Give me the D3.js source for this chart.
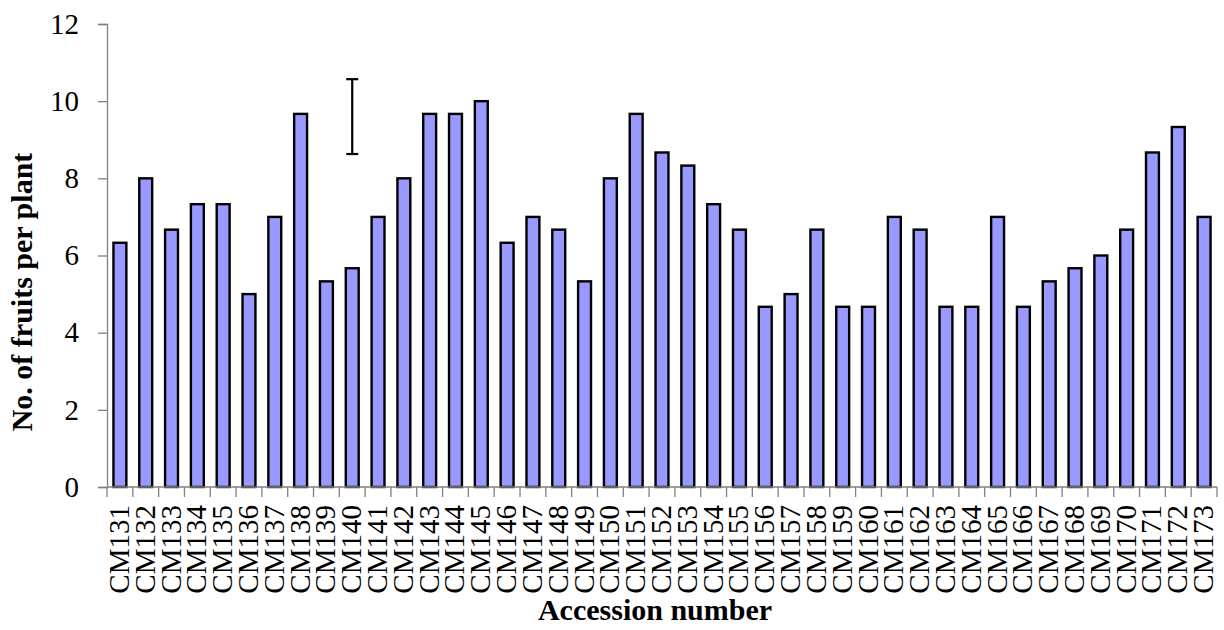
<!DOCTYPE html>
<html>
<head>
<meta charset="utf-8">
<script src="https://cdn.jsdelivr.net/npm/d3@7"></script>
<style>
  body { margin: 0; background: #fff; }
  text { font-family: "Liberation Serif", serif; fill: #000; }
</style>
</head>
<body>
<div id="chart"></div>
<script>
(function() {
    const width = 1224;
    const height = 630;

    // Accession numbers and mean fruits per plant
    const accessions = ["CM131", "CM132", "CM133", "CM134", "CM135", "CM136", "CM137", "CM138", "CM139", "CM140",
        "CM141", "CM142", "CM143", "CM144", "CM145", "CM146", "CM147", "CM148", "CM149", "CM150",
        "CM151", "CM152", "CM153", "CM154", "CM155", "CM156", "CM157", "CM158", "CM159", "CM160",
        "CM161", "CM162", "CM163", "CM164", "CM165", "CM166", "CM167", "CM168", "CM169", "CM170",
        "CM171", "CM172", "CM173"];
    const fruits = [6.33, 8, 6.67, 7.33, 7.33, 5, 7, 9.67, 5.33, 5.67,
        7, 8, 9.67, 9.67, 10, 6.33, 7, 6.67, 5.33, 8,
        9.67, 8.67, 8.33, 7.33, 6.67, 4.67, 5, 6.67, 4.67, 4.67,
        7, 6.67, 4.67, 4.67, 7, 4.67, 5.33, 5.67, 6, 6.67,
        8.67, 9.33, 7];
    const yTicks = [0, 2, 4, 6, 8, 10, 12];
    // LSD bar drawn over CM140
    const lsdBar = { at: "CM140", low: 8.63, high: 10.57 };

    const margin = { top: 24, right: 7, bottom: 143, left: 107 };

    const svg = d3.select("#chart")
        .append("svg")
        .attr("width", width)
        .attr("height", height);

    const x = d3.scaleBand()
        .domain(accessions)
        .range([margin.left, width - margin.right])
        .paddingInner(0.5)
        .paddingOuter(0.25);

    const y = d3.scaleLinear()
        .domain([0, 12])
        .range([height - margin.bottom, margin.top]);

    // bars
    svg.append("g")
        .selectAll("rect")
        .data(fruits)
        .enter().append("rect")
        .attr("x", (d, i) => x(accessions[i]))
        .attr("y", d => y(d))
        .attr("width", x.bandwidth())
        .attr("height", d => y(0) - y(d))
        .attr("fill", "#9999ff")
        .attr("stroke", "#000")
        .attr("stroke-width", 2.4);

    // y axis
    const yAxis = svg.append("g")
        .attr("transform", `translate(${margin.left},0)`)
        .call(d3.axisLeft(y).tickValues(yTicks).tickSize(9).tickPadding(19));
    yAxis.select(".domain").attr("stroke", "#808080").attr("stroke-width", 1.3);
    yAxis.selectAll(".tick line").attr("stroke", "#808080").attr("stroke-width", 1.3);
    yAxis.selectAll(".tick text")
        .style("font-family", "Liberation Serif, serif")
        .style("font-size", "29px")
        .attr("fill", "#000");

    // x axis: ticks on category boundaries
    const step = x.step();
    const boundaries = d3.range(accessions.length + 1).map(i => margin.left + i * step);
    const xg = svg.append("g");
    xg.append("line")
        .attr("x1", margin.left).attr("x2", width - margin.right)
        .attr("y1", y(0)).attr("y2", y(0))
        .attr("stroke", "#808080").attr("stroke-width", 1.3);
    xg.selectAll(".bt")
        .data(boundaries)
        .enter().append("line")
        .attr("class", "bt")
        .attr("x1", d => d).attr("x2", d => d)
        .attr("y1", y(0)).attr("y2", y(0) + 10)
        .attr("stroke", "#808080").attr("stroke-width", 1.3);
    xg.selectAll(".lbl")
        .data(accessions)
        .enter().append("text")
        .attr("class", "lbl")
        .attr("transform", d => `translate(${x(d) + x.bandwidth() / 2 + 9},${y(0) + 18}) rotate(-90)`)
        .attr("text-anchor", "end")
        .style("font-size", "29px")
        .text(d => d);

    // LSD bar
    const cx = x(lsdBar.at) + x.bandwidth() / 2;
    const lsd = svg.append("g").attr("stroke", "#000").attr("stroke-width", 2.2);
    lsd.append("line").attr("x1", cx).attr("x2", cx).attr("y1", y(lsdBar.low)).attr("y2", y(lsdBar.high));
    lsd.append("line").attr("x1", cx - 6).attr("x2", cx + 6).attr("y1", y(lsdBar.low)).attr("y2", y(lsdBar.low));
    lsd.append("line").attr("x1", cx - 6).attr("x2", cx + 6).attr("y1", y(lsdBar.high)).attr("y2", y(lsdBar.high));

    // axis titles
    svg.append("text")
        .attr("x", 655)
        .attr("y", 620)
        .attr("text-anchor", "middle")
        .style("font-size", "30px")
        .style("font-weight", "bold")
        .text("Accession number");

    svg.append("text")
        .attr("transform", "translate(32,292) rotate(-90)")
        .attr("text-anchor", "middle")
        .style("font-size", "30px")
        .style("font-weight", "bold")
        .text("No. of fruits per plant");
})();
</script>
</body>
</html>
